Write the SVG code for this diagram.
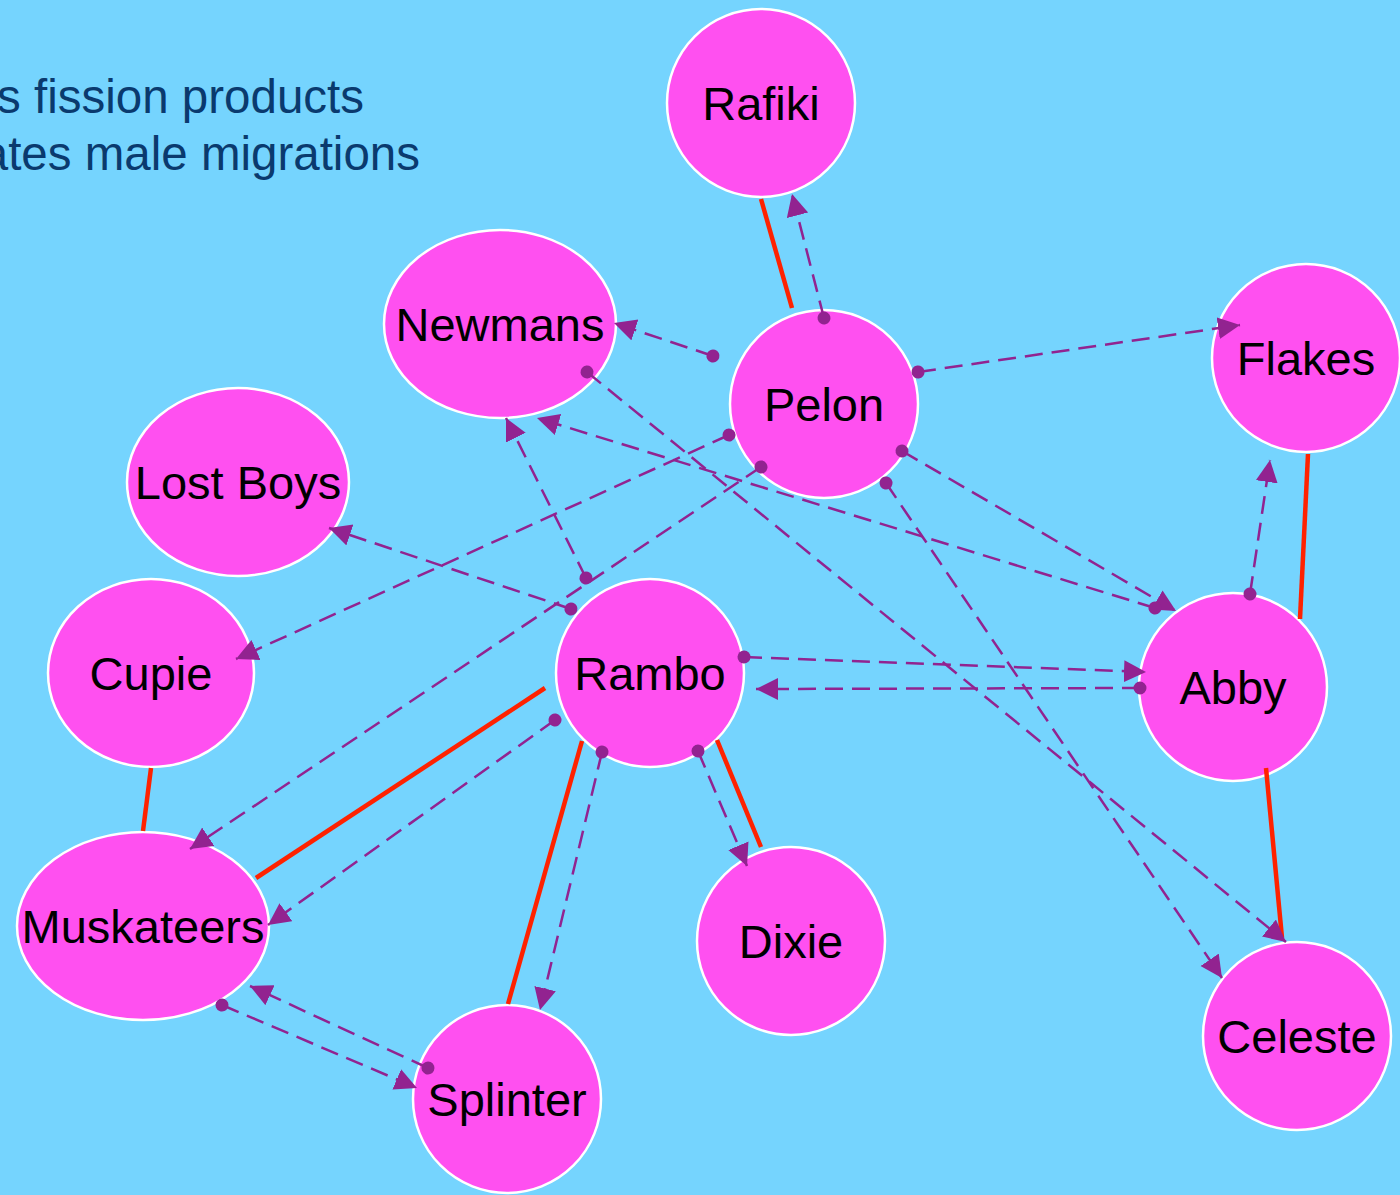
<svg xmlns="http://www.w3.org/2000/svg" width="1400" height="1195" viewBox="0 0 1400 1195">
<style>
.node ellipse{fill:#FF50F0;stroke:#FFFFFF;stroke-width:2.5}
.node text{font-family:"Liberation Sans",Arial,sans-serif;font-size:47px;fill:#000000;text-anchor:middle}
.title{font-family:"Liberation Sans",Arial,sans-serif;font-size:47.5px;fill:#0A3A6E;text-anchor:end}
.fission{stroke:#FF2200;stroke-width:4.5;fill:none}
.mig{stroke:#922390;stroke-width:2.5;fill:none;stroke-dasharray:18,9;marker-start:url(#dot);marker-end:url(#arrow)}
</style>
<defs>
<marker id="arrow" markerUnits="userSpaceOnUse" markerWidth="24" markerHeight="24" refX="22" refY="11" orient="auto" viewBox="0 0 24 24">
<path d="M0,0 L22,11 L0,22 z" fill="#922390"/>
</marker>
<marker id="dot" markerUnits="userSpaceOnUse" markerWidth="16" markerHeight="16" refX="8" refY="8" orient="auto" viewBox="0 0 16 16">
<circle cx="8" cy="8" r="6.5" fill="#922390"/>
</marker>
</defs>
<rect x="0" y="0" width="1400" height="1195" fill="#75D4FE"/>
<g id="legend">
<text class="title" x="364" y="113">s fission products</text>
<text class="title" x="420" y="170">ates male migrations</text>
</g>
<g id="Rafiki" class="node"><ellipse cx="761" cy="103" rx="94" ry="94"/><text x="761" y="120">Rafiki</text></g>
<g id="Newmans" class="node"><ellipse cx="500" cy="324" rx="116" ry="94"/><text x="500" y="341">Newmans</text></g>
<g id="Pelon" class="node"><ellipse cx="824" cy="404" rx="94" ry="94"/><text x="824" y="421">Pelon</text></g>
<g id="Flakes" class="node"><ellipse cx="1306" cy="358" rx="94" ry="94"/><text x="1306" y="375">Flakes</text></g>
<g id="LostBoys" class="node"><ellipse cx="238" cy="482" rx="111" ry="94"/><text x="238" y="499">Lost Boys</text></g>
<g id="Cupie" class="node"><ellipse cx="151" cy="673" rx="103" ry="94"/><text x="151" y="690">Cupie</text></g>
<g id="Rambo" class="node"><ellipse cx="650" cy="673" rx="94" ry="94"/><text x="650" y="690">Rambo</text></g>
<g id="Abby" class="node"><ellipse cx="1233" cy="687" rx="94" ry="94"/><text x="1233" y="704">Abby</text></g>
<g id="Muskateers" class="node"><ellipse cx="143" cy="926" rx="126" ry="94"/><text x="143" y="943">Muskateers</text></g>
<g id="Dixie" class="node"><ellipse cx="791" cy="941" rx="94" ry="94"/><text x="791" y="958">Dixie</text></g>
<g id="Splinter" class="node"><ellipse cx="507" cy="1099" rx="94" ry="94"/><text x="507" y="1116">Splinter</text></g>
<g id="Celeste" class="node"><ellipse cx="1297" cy="1036" rx="94" ry="94"/><text x="1297" y="1053">Celeste</text></g>
<g id="connectors">
<line class="fission" x1="761" y1="199" x2="792" y2="308"/>
<line class="fission" x1="1308" y1="454" x2="1300" y2="619"/>
<line class="fission" x1="1266" y1="768" x2="1282" y2="938"/>
<line class="fission" x1="151" y1="768" x2="143" y2="831"/>
<line class="fission" x1="545" y1="688" x2="256" y2="878"/>
<line class="fission" x1="582" y1="741" x2="508" y2="1004"/>
<line class="fission" x1="717" y1="740" x2="761" y2="847"/>
<line class="mig" x1="824" y1="318" x2="792" y2="194"/>
<line class="mig" x1="713" y1="356" x2="614" y2="323"/>
<line class="mig" x1="918" y1="372" x2="1240" y2="325"/>
<line class="mig" x1="729" y1="435" x2="236" y2="659"/>
<line class="mig" x1="761" y1="467" x2="190" y2="849"/>
<line class="mig" x1="902" y1="451" x2="1176" y2="611"/>
<line class="mig" x1="1155" y1="608" x2="537" y2="418"/>
<line class="mig" x1="886" y1="483" x2="1222" y2="978"/>
<line class="mig" x1="587" y1="372" x2="1286" y2="942"/>
<line class="mig" x1="586" y1="578" x2="506" y2="418"/>
<line class="mig" x1="571" y1="609" x2="329" y2="528"/>
<line class="mig" x1="744" y1="657" x2="1146" y2="672"/>
<line class="mig" x1="1140" y1="688" x2="756" y2="689"/>
<line class="mig" x1="555" y1="720" x2="268" y2="925"/>
<line class="mig" x1="602" y1="752" x2="540" y2="1010"/>
<line class="mig" x1="698" y1="751" x2="747" y2="866"/>
<line class="mig" x1="1250" y1="594" x2="1270" y2="460"/>
<line class="mig" x1="222" y1="1005" x2="417" y2="1088"/>
<line class="mig" x1="428" y1="1068" x2="250" y2="986"/>
</g>
</svg>
